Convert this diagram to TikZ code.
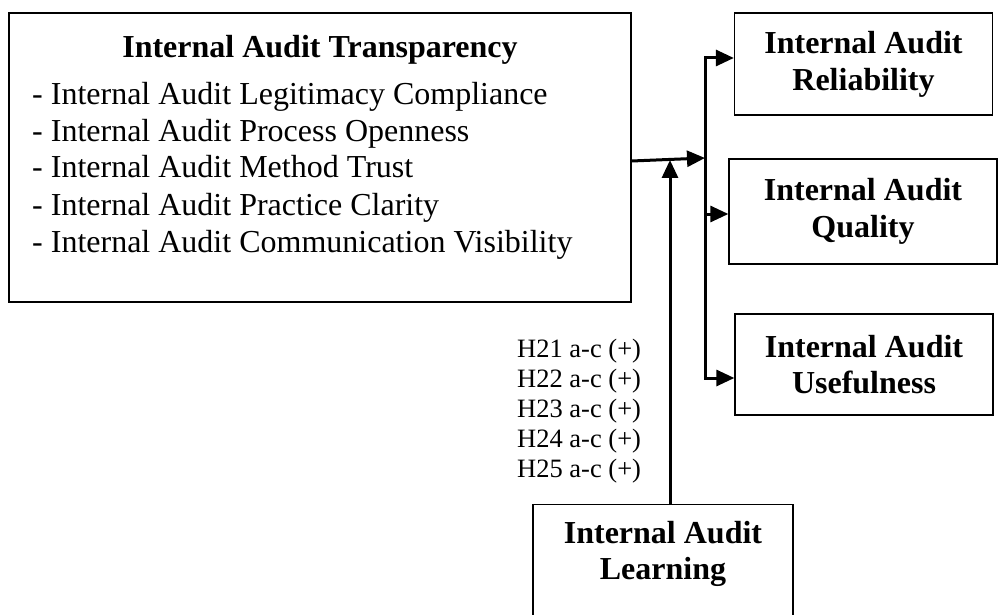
\documentclass[tikz,border=0pt]{standalone}
\usepackage{fontspec}
\setmainfont{Liberation Serif}
\usetikzlibrary{arrows.meta}
\begin{document}
\begin{tikzpicture}[x=1pt,y=-1pt,
  box/.style={draw,line width=1.3pt,inner sep=0pt},
  headtext/.style={font=\fontsize{32}{36.8}\selectfont\bfseries,align=center},
  itemtext/.style={font=\fontsize{32}{36.8}\selectfont,anchor=base west,inner sep=0pt},
  hyptext/.style={font=\fontsize{26.5}{30}\selectfont,anchor=base west,inner sep=0pt},
  conn/.style={line width=3pt},
  tip/.style={-{Triangle[length=18pt,width=16pt]}},
  bothtips/.style={{Triangle[length=18pt,width=16pt]}-{Triangle[length=18pt,width=16pt]}}]
\useasboundingbox (0,0) rectangle (999,615);
\clip (0,0) rectangle (999,615);

% independent construct
\node[box,minimum width=622pt,minimum height=289pt] (tr) at (320,157.5) {};
\node[headtext,anchor=base] (trtitle) at (320,58) {Internal Audit Transparency};
\node[itemtext] (it1) at (32,105) {- Internal Audit Legitimacy Compliance};
\node[itemtext] (it2) at (32,142) {- Internal Audit Process Openness};
\node[itemtext] (it3) at (32,178) {- Internal Audit Method Trust};
\node[itemtext] (it4) at (32,215) {- Internal Audit Practice Clarity};
\node[itemtext] (it5) at (32,252) {- Internal Audit Communication Visibility};

% outcome constructs
\node[box,headtext,minimum width=258pt,minimum height=102pt] (rel) at (863.5,64) {Internal Audit\\Reliability};
\node[box,headtext,minimum width=268pt,minimum height=105pt] (qual) at (863,211.5) {Internal Audit\\Quality};
\node[box,headtext,minimum width=258pt,minimum height=101pt] (use) at (864,364.5) {Internal Audit\\Usefulness};

% moderator
\node[box,minimum width=260pt,minimum height=160pt,anchor=north] (learn) at (663,504) {};
\node[headtext] (learntext) at (663,554) {Internal Audit\\Learning};

% hypotheses
\node[hyptext] (h21) at (517,357) {H21 a-c (+)};
\node[hyptext] (h22) at (517,387) {H22 a-c (+)};
\node[hyptext] (h23) at (517,417) {H23 a-c (+)};
\node[hyptext] (h24) at (517,447) {H24 a-c (+)};
\node[hyptext] (h25) at (517,477) {H25 a-c (+)};

% distribution bus
\coordinate (bt) at (705,58);
\coordinate (bq) at (705,214);
\coordinate (bb) at (705,378);
\coordinate (bin) at (705,158);
\coordinate (lin) at (670,160);

\draw[conn,bothtips] (bt -| rel.west) -- (bt) -- (bb) -- (bb -| use.west);
\draw[conn,tip] (bq) -- (bq -| qual.west);
\draw[conn,tip] ([yshift=-3.5pt]tr.east) -- (bin);
\draw[conn,tip] (lin |- learn.north) -- (lin);
\end{tikzpicture}
\end{document}
